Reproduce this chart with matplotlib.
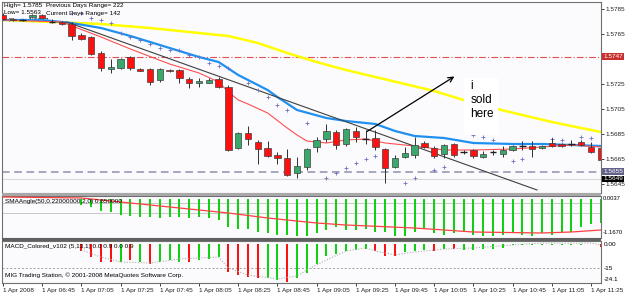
import matplotlib
matplotlib.use('Agg')
import matplotlib.pyplot as plt
from matplotlib.patches import Rectangle
import numpy as np

plt.rcParams['font.family'] = ['Liberation Sans', 'DejaVu Sans']

# ---------------- data ----------------
opens = [1.57802, 1.5777, 1.57762, 1.57786, 1.57802, 1.57746, 1.57746, 1.5773, 1.57642, 1.57626,
         1.57498, 1.5737, 1.57378, 1.57466, 1.5737, 1.5737, 1.57282, 1.57362, 1.57362, 1.5729,
         1.57254, 1.57262, 1.5729, 1.57222, 1.56738, 1.56858, 1.56786, 1.56738, 1.56682, 1.56658,
         1.56538, 1.56586, 1.56746, 1.5681, 1.56866, 1.5677, 1.56874, 1.5681, 1.56818, 1.5673,
         1.56586, 1.56666, 1.56682, 1.56778, 1.56738, 1.5669, 1.5677, 1.56706, 1.56722, 1.56666,
         1.56706, 1.5669, 1.56722, 1.56754, 1.56754, 1.56738, 1.56778, 1.5677, 1.5677, 1.56786,
         1.56746, 1.56738]
highs = [1.57818, 1.57778, 1.5777, 1.5781, 1.5781, 1.5777, 1.57754, 1.57746, 1.57658, 1.57634,
         1.57514, 1.5745, 1.57458, 1.57474, 1.57378, 1.57378, 1.57378, 1.5737, 1.5737, 1.57306,
         1.57298, 1.57298, 1.57306, 1.57238, 1.56866, 1.56914, 1.56802, 1.56794, 1.56706, 1.5673,
         1.56666, 1.56738, 1.56826, 1.5693, 1.56882, 1.56898, 1.56906, 1.56882, 1.56882, 1.56738,
         1.56682, 1.56746, 1.56826, 1.56794, 1.56754, 1.5677, 1.56778, 1.56722, 1.5673, 1.56714,
         1.56722, 1.56754, 1.56762, 1.56794, 1.56794, 1.56762, 1.56818, 1.56778, 1.56802, 1.56802,
         1.56786, 1.56754]
lows = [1.57762, 1.57754, 1.57754, 1.57778, 1.57778, 1.57738, 1.57722, 1.57602, 1.57602, 1.57482,
        1.57354, 1.57338, 1.5737, 1.57362, 1.57354, 1.57238, 1.5727, 1.57346, 1.57254, 1.57222,
        1.5723, 1.57254, 1.57222, 1.56714, 1.5673, 1.56762, 1.5661, 1.56666, 1.5661, 1.56514,
        1.56498, 1.56562, 1.56706, 1.56786, 1.5673, 1.56754, 1.56786, 1.5677, 1.56722, 1.56458,
        1.56578, 1.56658, 1.56658, 1.56738, 1.56658, 1.56658, 1.56666, 1.5669, 1.56658, 1.56658,
        1.56682, 1.56666, 1.56714, 1.56722, 1.56666, 1.5673, 1.56746, 1.56746, 1.56754, 1.56754,
        1.56698, 1.56642]
closes = [1.5777, 1.57762, 1.57758, 1.57802, 1.57782, 1.57742, 1.5773, 1.57634, 1.5761, 1.5749,
          1.57378, 1.57386, 1.5745, 1.57378, 1.57358, 1.5727, 1.5737, 1.57354, 1.57298, 1.57262,
          1.5727, 1.57278, 1.5723, 1.56722, 1.56858, 1.5681, 1.5673, 1.56674, 1.56658, 1.56522,
          1.56594, 1.5673, 1.56802, 1.56874, 1.56762, 1.5689, 1.56826, 1.56806, 1.56746, 1.56578,
          1.56658, 1.56698, 1.56762, 1.56746, 1.56674, 1.56762, 1.56682, 1.56702, 1.56674, 1.5669,
          1.56702, 1.56722, 1.56754, 1.5675, 1.5673, 1.56754, 1.56754, 1.56754, 1.56766, 1.56762,
          1.56706, 1.56642]

yellow_idx = [0, 5, 10, 15, 20, 23, 26, 29, 32, 35, 38, 41, 44, 47, 50, 53, 56, 59, 61]
yellow_val = [1.57762, 1.57746, 1.5773, 1.57698, 1.57658, 1.57634, 1.57578, 1.57498, 1.57426, 1.57362,
              1.57306, 1.5725, 1.57194, 1.57122, 1.57058, 1.57002, 1.56946, 1.56898, 1.56866]
blue_idx = [0, 4, 7, 10, 13, 17, 20, 22, 24, 27, 28, 30, 33, 35, 38, 40, 42, 45, 48, 52, 55, 58, 61]
blue_val = [1.57762, 1.57762, 1.57738, 1.57698, 1.57634, 1.57538, 1.57466, 1.57426, 1.57322, 1.57202,
            1.57146, 1.57042, 1.56978, 1.56954, 1.5693, 1.56874, 1.56834, 1.56818, 1.56778, 1.5677,
            1.5677, 1.56762, 1.56754]
redma_idx = [0, 6, 10, 13, 17, 20, 22, 23, 24, 25, 27, 29, 30, 31, 33, 35, 37, 39, 42, 45, 48, 52, 55, 58, 61]
redma_val = [1.57762, 1.57746, 1.57626, 1.5753, 1.5741, 1.57338, 1.57266, 1.57186, 1.57122, 1.5709,
             1.57018, 1.56898, 1.56842, 1.56794, 1.56778, 1.56802, 1.5681, 1.56778, 1.56754, 1.56722,
             1.56722, 1.5673, 1.56746, 1.56762, 1.56746]
sar_idx = [7, 8, 9, 10, 11, 12, 13, 14, 15, 16, 17, 18, 19, 20, 21, 22, 23, 25, 26, 27, 28, 29, 31,
           33, 34, 35, 36, 37, 38, 41, 42, 44, 45, 48, 49, 50, 52, 53, 56, 57, 59, 60]
sar_val = [1.57818, 1.57818, 1.57778, 1.57762, 1.57738, 1.57658, 1.57626, 1.57602, 1.5757, 1.57538,
           1.57522, 1.57522, 1.57482, 1.57466, 1.57418, 1.57394, 1.57378, 1.57258, 1.57202, 1.57146,
           1.57082, 1.57042, 1.56938, 1.56498, 1.56538, 1.56578, 1.56618, 1.5665, 1.56674, 1.56458,
           1.56498, 1.56562, 1.56586, 1.56842, 1.56826, 1.56802, 1.56634, 1.56650, 1.56810, 1.56802,
           1.56826, 1.56818]
trend_idx = [6.5, 54.5]
trend_val = [1.57746, 1.56402]
arrow_from = (36.9, 1.56858)
arrow_to = (46.3, 1.57322)
pivot_level = 1.5747
dash_level = 1.5655
bid_level = 1.5649

price_ticks = [1.5785, 1.5765, 1.5725, 1.5705, 1.5685, 1.5665, 1.5645]

sma_hist_idx = list(range(8, 62))
sma_hist_val = [-0.19, -0.25, -0.38, -0.41, -0.50, -0.54, -0.57, -0.57, -0.60, -0.57, -0.57, -0.60,
                -0.57, -0.60, -0.66, -0.88, -0.95, -0.95, -1.04, -1.07, -1.14, -1.14, -1.17, -1.17,
                -1.07, -0.98, -0.88, -0.98, -0.98, -0.95, -1.04, -1.04, -1.17, -1.17, -1.04, -0.95,
                -1.07, -1.14, -1.07, -1.04, -1.14, -1.17, -1.17, -1.14, -1.07, -1.14, -1.17, -1.07,
                -1.14, -1.04, -1.04, -0.88, -0.79, -0.76]
sma_line_idx = [0, 8, 13, 18, 23, 27, 32, 35, 42, 48, 55, 58, 61]
sma_line_val = [0.063, 0.032, -0.126, -0.284, -0.442, -0.599, -0.757, -0.82, -0.915, -1.041, -1.072,
                -1.041, -0.978]
sma_levels = [-0.126, -0.44]

macd_idx = list(range(8, 62))
macd_val = [-4, -8, -11, -11, -11, -10, -11, -12, -11, -10, -11, -11, -10, -9, -8, -17, -19, -20,
            -21, -21, -22, -23, -21, -18, -12.2, -7.1, -6.1, -4.1, -3.7, -3.1, -4.1, -7.1, -7.1,
            -5.1, -4.5, -3.7, -4.5, -3.1, -3.1, -3.7, -3.7, -3.1, -3.1, -2.4, -0.5, -0.5, -0.6,
            -0.5, -0.8, -0.8, -0.7, -0.5, -0.3, -2.0]
macd_up = [0, 0, 0, 0, 1, 0, 1, 0, 1, 1, 1, 0, 1, 1, 1, 0, 0, 0, 0, 1, 1, 0, 1, 1, 1, 1, 1, 1, 1,
           1, 0, 0, 0, 1, 1, 1, 0, 1, 0, 1, 1, 1, 1, 1, 1, 1, 1, 1, 1, 1, 1, 1, 1, 0]
signal_idx = [8, 10, 12, 15, 18, 22, 23, 25, 28, 30, 31, 33, 35, 37, 38, 40, 42, 45, 48, 52, 55, 60, 61]
signal_val = [-3.7, -8.0, -11.0, -11.6, -9.2, -8.0, -14.7, -19.0, -21.4, -19.6, -15.9, -9.8, -4.3,
              -2.4, -4.3, -6.7, -4.9, -3.1, -2.4, -0.6, 0.6, 0.6, -0.6]

time_tick_idx = list(range(0, 61, 4))
time_labels = ['1 Apr 2008', '1 Apr 06:45', '1 Apr 07:05', '1 Apr 07:25', '1 Apr 07:45',
               '1 Apr 08:05', '1 Apr 08:25', '1 Apr 08:45', '1 Apr 09:05', '1 Apr 09:25',
               '1 Apr 09:45', '1 Apr 10:05', '1 Apr 10:25', '1 Apr 10:45', '1 Apr 11:05',
               '1 Apr 11:25']

# ---------------- layout helpers ----------------
W, H = 625, 293
fig = plt.figure(figsize=(W / 100, H / 100), dpi=100)
fig.patch.set_facecolor('white')
BG = '#fbfafc'
FS = 4.6


def pax(x0, y0, x1, y1):
    return fig.add_axes([x0 / W, 1 - y1 / H, (x1 - x0) / W, (y1 - y0) / H])


def ftext(x, y, s, **kw):
    fig.text(x / W, 1 - y / H, s, fontsize=FS, va='center', ha='left', **kw)


XL = (-0.102, 61.02)

# ---------------- main price panel ----------------
ax = pax(2, 2, 601, 193)
ax.set_facecolor(BG)
ax.set_xlim(*XL)
ax.set_ylim(1.56378, 1.57906)
for s in ax.spines.values():
    s.set_color('#707070')
    s.set_linewidth(0.8)
ax.set_xticks([])
ax.yaxis.tick_right()
ax.set_yticks(price_ticks)
ax.set_yticklabels([f'{v:.4f}' for v in price_ticks])
ax.tick_params(axis='y', length=2, width=0.6, pad=1, labelsize=FS, colors='#202020')

ax.axhline(pivot_level, color='#e05050', lw=0.8, ls=(0, (6, 2, 1, 2)), zorder=1)
ax.axhline(dash_level, color='#9090b0', lw=1.1, ls=(0, (5, 3)), zorder=1)
ax.axhline(bid_level, color='#d8d8d8', lw=0.8, zorder=1)

ax.plot(yellow_idx, yellow_val, color='#ffff00', lw=1.8, zorder=2)
ax.plot(blue_idx, blue_val, color='#2090f0', lw=1.6, zorder=3)
ax.plot(redma_idx, redma_val, color='#ff5050', lw=0.8, zorder=3)
ax.plot(trend_idx, trend_val, color='#404040', lw=0.8, zorder=3)
ax.plot(sar_idx, sar_val, ls='none', marker='+', ms=2.2, mew=0.6, color='#7070c0', zorder=3)

for i, (o, h, l, c) in enumerate(zip(opens, highs, lows, closes)):
    ax.vlines(i, l, h, color='#303030', lw=0.7, zorder=4)
    if abs(c - o) < 0.00005:
        ax.hlines((o + c) / 2, i - 0.32, i + 0.32, color='#202020', lw=1.0, zorder=5)
        continue
    col = '#3aa86b' if c > o else '#ff1010'
    ax.add_patch(Rectangle((i - 0.32, min(o, c)), 0.64, abs(c - o), facecolor=col,
                           edgecolor='#404040', lw=0.5, zorder=5))

ax.annotate('', xy=arrow_to, xytext=arrow_from,
            arrowprops=dict(arrowstyle='->', color='black', lw=0.9, mutation_scale=9), zorder=6)
ax.add_patch(Rectangle((47.0, 1.56842), 3.5, 0.00456, facecolor='white', edgecolor='none', zorder=6))
ax.text(47.7, 1.57282, 'i\nsold\nhere', fontsize=8.5, va='top', ha='left', linespacing=1.25,
        color='black', zorder=7)

# right-axis highlighted labels
for lvl, fc, tc in [(pivot_level, '#c83030', 'white'), (dash_level, '#606088', 'white'),
                    (bid_level, '#000000', 'white')]:
    ax.text(1.004, lvl, f'{lvl:.4f}', transform=ax.get_yaxis_transform(), fontsize=FS, color=tc,
            va='center', ha='left', bbox=dict(boxstyle='square,pad=0.15', fc=fc, ec='none'),
            clip_on=False, zorder=10)

# info text
ftext(4, 5, 'High= 1.5785', zorder=10)
ftext(46, 5, 'Previous Days Range= 222', zorder=10)
ftext(4, 13, 'Low= 1.5563', zorder=10)
ftext(46, 13, 'Current Days Range= 142', zorder=10)
ax.text(0.6, 1.57756, 'Pivot= 1.5747', fontsize=FS, va='center', ha='left', zorder=1.5)

# ---------------- separators ----------------
fig.patches.append(Rectangle((2 / W, 1 - 196 / H), 599 / W, 3 / H, transform=fig.transFigure,
                             facecolor='#a8a8a8', edgecolor='none'))
fig.patches.append(Rectangle((2 / W, 1 - 241 / H), 599 / W, 3 / H, transform=fig.transFigure,
                             facecolor='#606060', edgecolor='none'))

# ---------------- SMAAngle panel ----------------
ax2 = pax(2, 196, 601, 238)
ax2.set_facecolor(BG)
ax2.set_xlim(*XL)
ax2.set_ylim(-1.2301, 0.0946)
for s in ax2.spines.values():
    s.set_color('#707070')
    s.set_linewidth(0.8)
ax2.set_xticks([])
ax2.set_yticks([])
for lv in sma_levels:
    ax2.axhline(lv, color='#c8c8c8', lw=0.7)
ax2.bar(sma_hist_idx, sma_hist_val, width=0.22, color='#10d010', zorder=2)
ax2.plot(sma_line_idx, sma_line_val, color='#ff4040', lw=0.9, zorder=3)
ax2.text(0.005, 0.88, 'SMAAngle(50,0.22000000,2,0) 0.650000', transform=ax2.transAxes,
         fontsize=FS, va='center', ha='left', zorder=5)
ax2.text(1.003, 0.0, '0.0037', transform=ax2.get_yaxis_transform(), fontsize=4.2, va='center',
         ha='left', clip_on=False)
ax2.text(1.003, -1.05, '-1.1670', transform=ax2.get_yaxis_transform(), fontsize=4.2, va='center',
         ha='left', clip_on=False)

# ---------------- MACD panel ----------------
ax3 = pax(2, 241, 601, 283)
ax3.set_facecolor(BG)
ax3.set_xlim(*XL)
ax3.set_ylim(-23.88, 1.837)
for s in ax3.spines.values():
    s.set_color('#707070')
    s.set_linewidth(0.8)
ax3.set_yticks([])
ax3.axhline(-15, color='#a0a0a0', lw=0.7, ls=(0, (2, 2)))
cols = ['#10d010' if u else '#ff1010' for u in macd_up]
ax3.bar(macd_idx, macd_val, width=0.22, color=cols, zorder=2)
ax3.plot(signal_idx, signal_val, color='#b0b0b0', lw=0.8, ls=(0, (1, 1.5)), zorder=3)
ax3.text(0.005, 0.88, 'MACD_Colored_v102 (5,13,1) 0.0 0.9 0.0 0.9', transform=ax3.transAxes,
         fontsize=FS, va='center', ha='left', zorder=5)
ax3.text(0.005, 0.18, 'MIG Trading Station, \u00a9 2001-2008 MetaQuotes Software Corp.',
         transform=ax3.transAxes, fontsize=FS, va='center', ha='left', zorder=5)
for v, s in [(0, '0.00'), (-15, '-15'), (-21.5, '-24.1')]:
    ax3.text(1.004, v, s, transform=ax3.get_yaxis_transform(), fontsize=FS, va='center',
             ha='left', clip_on=False)
ax3.set_xticks(time_tick_idx)
ax3.set_xticklabels(time_labels, ha='left')
ax3.tick_params(axis='x', length=2.5, width=0.6, pad=1, labelsize=FS, colors='#202020')

fig.savefig('out.png', dpi=100, facecolor='white')
